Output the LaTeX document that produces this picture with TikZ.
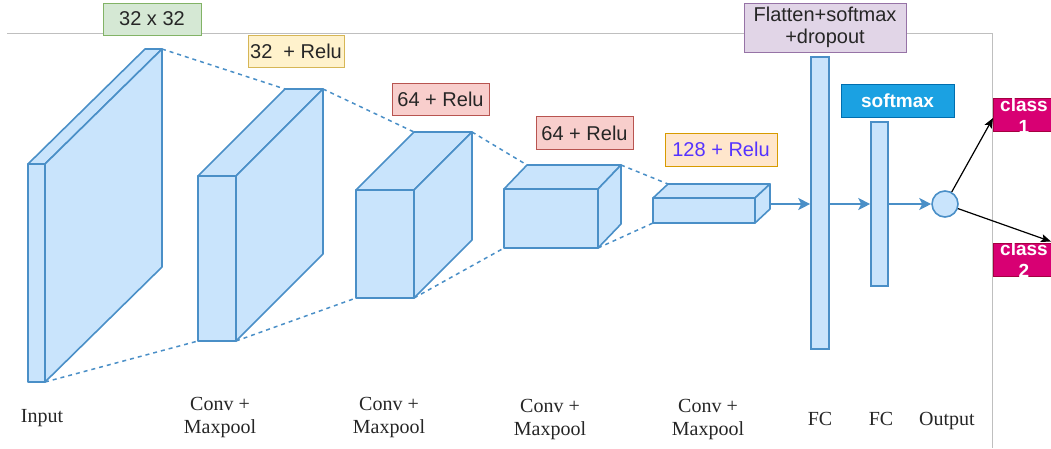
\documentclass[tikz,border=0pt]{standalone}
\usepackage{fontspec}
\setmainfont{Liberation Serif}
\newfontfamily\lsans{Liberation Sans}
\usetikzlibrary{arrows.meta}
\definecolor{cubefill}{HTML}{C9E4FC}
\definecolor{cubeline}{HTML}{4A8FC7}
\definecolor{gfill}{HTML}{D5E8D4}\definecolor{gline}{HTML}{82B366}
\definecolor{yfill}{HTML}{FFF2CC}\definecolor{yline}{HTML}{D6B656}
\definecolor{rfill}{HTML}{F8CECC}\definecolor{rline}{HTML}{B85450}
\definecolor{ofill}{HTML}{FFE6CC}\definecolor{oline}{HTML}{D79B00}
\definecolor{otext}{HTML}{5533FF}
\definecolor{pfill}{HTML}{E1D5E7}\definecolor{pline}{HTML}{9673A6}
\definecolor{bfill}{HTML}{1BA1E2}\definecolor{bline}{HTML}{006EAF}
\definecolor{mfill}{HTML}{D80073}\definecolor{mline}{HTML}{A50040}
\newcommand\mycuboid[7]{%
  \filldraw[cube] (#2,#3) rectangle (#4,#5);
  \filldraw[cube] (#2,#3) -- ++(#6,#7) -- ++({#4-#2},0) -- (#4,#3) -- cycle;
  \filldraw[cube] (#4,#3) -- ++(#6,#7) -- ++(0,{#5-#3}) -- (#4,#5) -- cycle;
  \path (#2,#3) ++(#6,#7) coordinate (#1-btl) ++({#4-#2},0) coordinate (#1-btr);
  \coordinate (#1-fbl) at (#2,#5);
  \coordinate (#1-fbr) at (#4,#5);
}
\begin{document}
\begin{tikzpicture}[x=1pt,y=-1pt,
  cube/.style={fill=cubefill,draw=cubeline,line width=1.6pt,line join=round},
  dashlink/.style={draw=cubeline,line width=1.5pt,dash pattern=on 4pt off 4pt},
  fcbar/.style={rectangle,fill=cubefill,draw=cubeline,line width=1.6pt,inner sep=0},
  flow/.style={draw=cubeline,line width=1.6pt,-{Stealth[length=12pt,width=12pt,inset=3pt]}},
  outarrow/.style={draw=black,line width=1.2pt,-{Stealth[length=10pt,width=8pt,inset=2pt]}},
  lbl/.style={rectangle,draw,line width=1pt,inner sep=0,font=\lsans\fontsize{20}{22}\selectfont,text=black!85,align=center},
  caption/.style={font=\fontsize{20}{23}\selectfont,align=center,text=black!85,inner sep=0},
]
\useasboundingbox (0,0) rectangle (1051,448);
% frame lines
\draw[black!25,line width=1pt] (7,33.5) -- (992,33.5) -- (992,448);

% cuboids
\mycuboid{a}{28}{164}{45}{382}{117}{-115}
\mycuboid{b}{198}{176}{236}{341}{87}{-87}
\mycuboid{c}{356}{190}{414}{298}{58}{-58}
\mycuboid{d}{504}{189}{598}{248}{23}{-24}
\mycuboid{e}{653}{198}{755}{223}{15}{-14}

% dashed links
\draw[dashlink] (a-btr) -- (b-btl);
\draw[dashlink] (b-btr) -- (c-btl);
\draw[dashlink] (c-btr) -- (d-btl);
\draw[dashlink] (d-btr) -- (e-btl);
\draw[dashlink] (a-fbr) -- (b-fbl);
\draw[dashlink] (b-fbr) -- (c-fbl);
\draw[dashlink] (c-fbr) -- (d-fbl);
\draw[dashlink] (d-fbr) -- (e-fbl);

% FC layers and output
\node[fcbar,minimum width=18,minimum height=292] (fc1) at (820,203) {};
\node[fcbar,minimum width=17,minimum height=164] (fc2) at (879.5,204) {};
\node[circle,fill=cubefill,draw=cubeline,line width=1.6pt,minimum size=26,inner sep=0] (out) at (945,204) {};
\coordinate (row) at (0,204);
\coordinate (estart) at (770,204);
\draw[flow] (estart) -- (fc1.west |- row);
\draw[flow] (fc1.east |- row) -- (fc2.west |- row);
\draw[flow] (fc2.east |- row) -- (out.west);

% class boxes
\node[rectangle,fill=mfill,draw=mline,line width=0.8pt,minimum width=62,minimum height=33,inner sep=0,
  label={[text=white,font=\lsans\bfseries\fontsize{19}{22}\selectfont,align=center,yshift=-1.5pt]center:class\\1}] (cls1) at (1024,114.5) {};
\node[rectangle,fill=mfill,draw=mline,line width=0.8pt,minimum width=62,minimum height=33,inner sep=0,
  label={[text=white,font=\lsans\bfseries\fontsize{19}{22}\selectfont,align=center]center:class\\2}] (cls2) at (1024,259.5) {};
\coordinate (c1tip) at (993,118);
\coordinate (c2tip) at (1051,241.5);
\draw[outarrow] (out) -- (c1tip);
\draw[outarrow] (out) -- (c2tip);

% top labels
\node[lbl,fill=gfill,draw=gline,minimum width=98,minimum height=32] (l1) at (152,19) {32 x 32};
\node[lbl,fill=yfill,draw=yline,minimum width=96,minimum height=32] (l2) at (296,51) {32\ \ + Relu};
\node[lbl,fill=rfill,draw=rline,minimum width=97,minimum height=32] (l3) at (440.5,99) {64 + Relu};
\node[lbl,fill=rfill,draw=rline,minimum width=97,minimum height=33] (l4) at (584.5,133) {64 + Relu};
\node[lbl,fill=ofill,draw=oline,minimum width=112,minimum height=33,text=otext] (l5) at (721,149.5) {128 + Relu};
\node[lbl,fill=pfill,draw=pline,minimum width=162,minimum height=49] (l6) at (825,27.5) {Flatten+softmax\\+dropout};
\node[lbl,fill=bfill,draw=bline,minimum width=113,minimum height=33,text=white,font=\lsans\bfseries\fontsize{19}{22}\selectfont] (l7) at (897.5,100.5) {softmax};

% bottom captions
\node[caption,anchor=base] (t1) at (42,422) {Input};
\node[caption] (t2) at (220,417) {Conv +\\Maxpool};
\node[caption] (t3) at (389,417) {Conv +\\Maxpool};
\node[caption] (t4) at (550,419) {Conv +\\Maxpool};
\node[caption] (t5) at (708,419) {Conv +\\Maxpool};
\node[caption,anchor=base] (t6) at (820,425) {FC};
\node[caption,anchor=base] (t7) at (881,425) {FC};
\node[caption,anchor=base] (t8) at (947,425) {Output};
\end{tikzpicture}
\end{document}
